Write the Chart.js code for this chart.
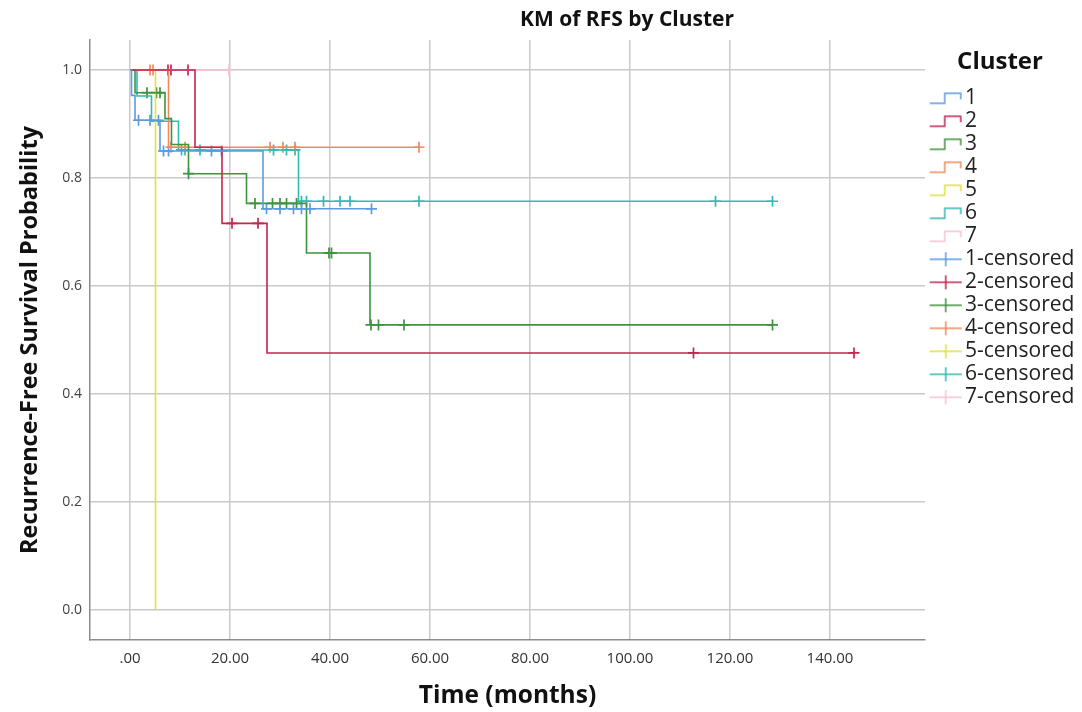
<!DOCTYPE html>
<html>
<head>
<meta charset="utf-8">
<script src="https://cdn.jsdelivr.net/npm/chart.js@4.4.1/dist/chart.umd.min.js"></script>
<style>
html, body { margin: 0; padding: 0; background: #fff; }
#wrap { width: 1082px; height: 712px; position: relative; }
</style>
</head>
<body>
<div id="wrap"><canvas id="km"></canvas></div>
<script>
// KM step curves: event times (months) and survival after each step
var time1 = [0, 0.3, 1.0, 6.0, 26.6, 48.3];
var surv1 = [1, 0.953, 0.907, 0.850, 0.743, 0.743];
var time2 = [0, 13.0, 18.4, 27.4, 144.8];
var surv2 = [1, 0.857, 0.716, 0.476, 0.476];
var time3 = [0, 1.0, 7.0, 8.3, 11.7, 23.3, 35.3, 48.0, 128.5];
var surv3 = [1, 0.958, 0.910, 0.862, 0.808, 0.753, 0.661, 0.528, 0.528];
var time4 = [0, 7.7, 57.8];
var surv4 = [1, 0.857, 0.857];
var time5 = [0, 5.1];
var surv5 = [1, 0];
var time6 = [0, 1.4, 4.3, 9.7, 33.7, 128.5];
var surv6 = [1, 0.952, 0.905, 0.852, 0.757, 0.757];
var time7 = [0, 19.8];
var surv7 = [1, 1];

// censored observations
var cens1Time = [1.7, 4.0, 5.7, 6.7, 7.7, 16.3, 18.3, 27.3, 30.0, 32.7, 34.3, 36.0, 48.3];
var cens1Surv = [0.907, 0.907, 0.907, 0.850, 0.850, 0.850, 0.850, 0.743, 0.743, 0.743, 0.743, 0.743, 0.743];
var cens2Time = [7.6, 8.2, 11.6, 20.4, 25.6, 112.7, 144.8];
var cens2Surv = [1, 1, 1, 0.716, 0.716, 0.476, 0.476];
var cens3Time = [3.4, 5.3, 6.0, 11.7, 25.0, 28.5, 30.0, 31.3, 33.3, 39.8, 40.3, 48.2, 49.7, 54.8, 128.5];
var cens3Surv = [0.958, 0.958, 0.958, 0.808, 0.753, 0.753, 0.753, 0.753, 0.753, 0.661, 0.661, 0.528, 0.528, 0.528, 0.528];
var cens4Time = [4.0, 4.6, 8.2, 11.0, 28.0, 30.6, 33.0, 57.8];
var cens4Surv = [1, 1, 0.857, 0.857, 0.857, 0.857, 0.857, 0.857];
var cens5Time = [];
var cens5Surv = [];
var cens6Time = [10.3, 11.0, 14.0, 28.7, 31.3, 33.0, 34.3, 35.3, 38.7, 42.0, 44.0, 57.8, 117.1, 128.5];
var cens6Surv = [0.852, 0.852, 0.852, 0.852, 0.852, 0.852, 0.757, 0.757, 0.757, 0.757, 0.757, 0.757, 0.757, 0.757];
var cens7Time = [19.8];
var cens7Surv = [1];

var clusters = ['1', '2', '3', '4', '5', '6', '7'];
var colors = ['#5b9be0', '#c8254f', '#3f933f', '#f08a5d', '#e6e03a', '#2fbab2', '#f5c3d1'];
var xTicks = [0, 20, 40, 60, 80, 100, 120, 140];
var yTicks = [0, 0.2, 0.4, 0.6, 0.8, 1.0];

var stepTimes = [time1, time2, time3, time4, time5, time6, time7];
var stepSurv = [surv1, surv2, surv3, surv4, surv5, surv6, surv7];
var censTimes = [cens1Time, cens2Time, cens3Time, cens4Time, cens5Time, cens6Time, cens7Time];
var censSurv = [cens1Surv, cens2Surv, cens3Surv, cens4Surv, cens5Surv, cens6Surv, cens7Surv];

function pts(t, s) {
    return t.map(function (x, i) { return { x: x, y: s[i] }; });
}

// legend glyphs: canvas is wider than the glyph so it lands where SPSS puts it
function stepIcon(color) {
    var c = document.createElement('canvas');
    c.width = 60; c.height = 16;
    var g = c.getContext('2d');
    g.strokeStyle = color; g.lineWidth = 1.5;
    g.beginPath();
    g.moveTo(19, 13); g.lineTo(34, 13); g.lineTo(34, 3); g.lineTo(50, 3); g.lineTo(50, 9);
    g.stroke();
    return c;
}

function crossIcon(color) {
    var c = document.createElement('canvas');
    c.width = 60; c.height = 16;
    var g = c.getContext('2d');
    g.strokeStyle = color; g.lineWidth = 1.5;
    g.beginPath();
    g.moveTo(19, 8); g.lineTo(51, 8);
    g.moveTo(35, 1); g.lineTo(35, 15);
    g.stroke();
    return c;
}

var datasets = [];
clusters.forEach(function (name, i) {
    datasets.push({
        label: name,
        data: pts(stepTimes[i], stepSurv[i]),
        borderColor: colors[i],
        borderWidth: 1.6,
        stepped: 'before',
        pointRadius: 0,
        fill: false,
        icon: stepIcon(colors[i])
    });
});
clusters.forEach(function (name, i) {
    datasets.push({
        label: name + '-censored',
        data: pts(censTimes[i], censSurv[i]),
        borderColor: colors[i],
        backgroundColor: colors[i],
        showLine: false,
        pointStyle: 'cross',
        pointRadius: 5.5,
        pointBorderWidth: 1.7,
        icon: crossIcon(colors[i])
    });
});

var titlePlugin = {
    id: 'kmTitle',
    afterDraw: function (chart) {
        var ctx = chart.ctx;
        ctx.save();
        ctx.font = 'bold 21px "Open Sans"';
        ctx.fillStyle = '#111';
        ctx.textAlign = 'center';
        ctx.textBaseline = 'middle';
        ctx.fillText('KM of RFS by Cluster', 627, 20);
        ctx.restore();
    }
};

new Chart(document.getElementById('km'), {
    type: 'line',
    data: { datasets: datasets },
    plugins: [titlePlugin],
    options: {
        responsive: true,
        maintainAspectRatio: false,
        animation: false,
        events: [],
        layout: { padding: { top: 40, right: 7, bottom: 0, left: 0 } },
        plugins: {
            title: { display: false },
            tooltip: { enabled: false },
            legend: {
                position: 'right',
                align: 'start',
                maxWidth: 150,
                title: {
                    display: true,
                    text: 'Cluster',
                    color: '#111',
                    font: { family: '"Open Sans"', size: 24, weight: 'bold' },
                    padding: { top: 10, bottom: 7 }
                },
                labels: {
                    usePointStyle: true,
                    pointStyleWidth: 27.5,
                    padding: 2,
                    color: '#222',
                    font: { family: '"Open Sans"', size: 21 },
                    generateLabels: function (chart) {
                        return chart.data.datasets.map(function (ds, i) {
                            return {
                                text: ds.label,
                                pointStyle: ds.icon,
                                fillStyle: 'transparent',
                                strokeStyle: 'transparent',
                                lineWidth: 0,
                                hidden: false,
                                fontColor: '#222',
                                datasetIndex: i
                            };
                        });
                    }
                }
            }
        },
        scales: {
            x: {
                type: 'linear',
                min: -8,
                max: 159,
                afterFit: function (s) { s.height = 72; },
                afterBuildTicks: function (s) { s.ticks = xTicks.map(function (v) { return { value: v }; }); },
                grid: { color: '#c9c9c9', lineWidth: 1.5, drawTicks: false },
                border: { color: '#8c8c8c', width: 1.5 },
                ticks: {
                    padding: 10,
                    color: '#333',
                    font: { family: '"Open Sans"', size: 15 },
                    callback: function (v) { return v === 0 ? '.00' : v.toFixed(2); }
                },
                title: {
                    display: true,
                    text: 'Time (months)',
                    color: '#111',
                    font: { family: '"Open Sans"', size: 24.5, weight: 'bold' },
                    padding: { top: 0, bottom: 1 }
                }
            },
            y: {
                type: 'linear',
                min: -0.0556,
                max: 1.0556,
                afterFit: function (s) { s.width = 90; },
                afterBuildTicks: function (s) { s.ticks = yTicks.map(function (v) { return { value: v }; }); },
                grid: { color: '#c9c9c9', lineWidth: 1.5, drawTicks: false },
                border: { color: '#8c8c8c', width: 1.5 },
                ticks: {
                    padding: 8,
                    color: '#444',
                    font: { family: '"Open Sans"', size: 14 },
                    callback: function (v) { return v.toFixed(1); }
                },
                title: {
                    display: true,
                    text: 'Recurrence-Free Survival Probability',
                    color: '#111',
                    font: { family: '"Open Sans"', size: 23.5, weight: 'bold' },
                    padding: { top: 16, bottom: 0 }
                }
            }
        }
    }
});
</script>
</body>
</html>
